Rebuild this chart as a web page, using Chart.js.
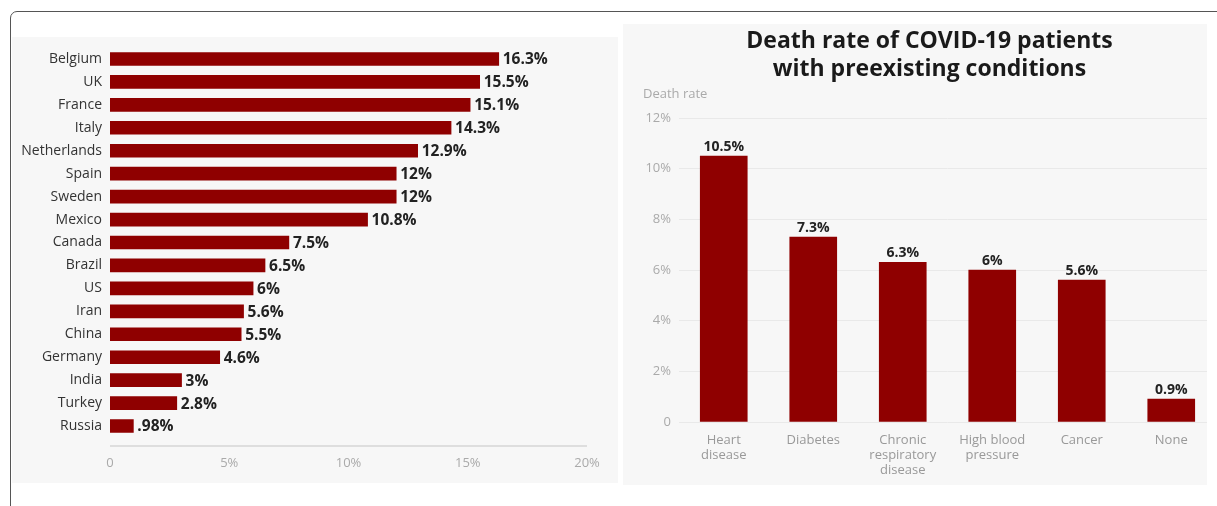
<!DOCTYPE html>
<html lang="en">
<head>
  <meta charset="UTF-8">
  <title>COVID-19 death rates</title>
  <script src="https://cdn.jsdelivr.net/npm/chart.js"></script>
  <style>
    body { margin: 0; width: 1217px; height: 506px; overflow: hidden; background: #fff; position: relative; }
    .frame { position: absolute; left: 10px; top: 11px; width: 1400px; height: 700px; border: 1.5px solid #555; border-radius: 7px; }
    .panel { position: absolute; background: #f7f7f7; }
    #leftPanel { left: 12px; top: 37px; width: 606px; height: 446px; }
    #rightPanel { left: 623px; top: 24px; width: 584px; height: 461px; }
    #leftChart { position: absolute; left: 12px; top: 37px; }
    #rightChart { position: absolute; left: 623px; top: 24px; }
    .cover { position: absolute; left: 1207px; top: 20px; width: 20px; height: 470px; background: #fff; }
  </style>
</head>
<body>
<div class="frame"></div>
<div class="panel" id="leftPanel"></div>
<div class="panel" id="rightPanel"></div>
<canvas id="leftChart" width="606" height="446"></canvas>
<canvas id="rightChart" width="594" height="461"></canvas>
<div class="cover"></div>

<script>
  // left chart: death rate by country
  const countries = ['Belgium', 'UK', 'France', 'Italy', 'Netherlands', 'Spain', 'Sweden', 'Mexico',
    'Canada', 'Brazil', 'US', 'Iran', 'China', 'Germany', 'India', 'Turkey', 'Russia'];
  const countryRates = [16.3, 15.5, 15.1, 14.3, 12.9, 12, 12, 10.8, 7.5, 6.5, 6, 5.6, 5.5, 4.6, 3, 2.8, 0.98];
  const countryLabels = ['16.3%', '15.5%', '15.1%', '14.3%', '12.9%', '12%', '12%', '10.8%', '7.5%',
    '6.5%', '6%', '5.6%', '5.5%', '4.6%', '3%', '2.8%', '.98%'];

  // right chart: death rate by preexisting condition
  const conditions = [['Heart', 'disease'], ['Diabetes'], ['Chronic', 'respiratory', 'disease'],
    ['High blood', 'pressure'], ['Cancer'], ['None']];
  const conditionRates = [10.5, 7.3, 6.3, 6, 5.6, 0.9];
  const conditionLabels = ['10.5%', '7.3%', '6.3%', '6%', '5.6%', '0.9%'];

  const barRed = '#8f0000';
  Chart.defaults.font.family = '"Open Sans", sans-serif';

  const pctTick = v => v === 0 ? '0' : v + '%';

  const leftValues = {
    id: 'leftValues',
    afterDatasetsDraw(chart) {
      const ctx = chart.ctx;
      ctx.save();
      ctx.font = 'bold 15.5px "Open Sans"';
      ctx.fillStyle = '#222';
      ctx.textBaseline = 'middle';
      chart.getDatasetMeta(0).data.forEach((bar, i) => {
        ctx.fillText(countryLabels[i], bar.x + 4, bar.y + 1);
      });
      ctx.restore();
    }
  };

  const baseLine = {
    id: 'baseLine',
    afterDraw(chart) {
      const ctx = chart.ctx;
      const x = chart.scales.x;
      const y = chart.chartArea.bottom + 8.5;
      ctx.save();
      ctx.strokeStyle = '#dedede';
      ctx.lineWidth = 2;
      ctx.beginPath();
      ctx.moveTo(x.getPixelForValue(0), y);
      ctx.lineTo(x.getPixelForValue(20), y);
      ctx.stroke();
      ctx.restore();
    }
  };

  new Chart(document.getElementById('leftChart'), {
    type: 'bar',
    data: {
      labels: countries,
      datasets: [{ data: countryRates, backgroundColor: barRed, barThickness: 13 }]
    },
    options: {
      indexAxis: 'y',
      responsive: false,
      animation: false,
      layout: { padding: { top: 10.5, bottom: 0, left: 0, right: 31 } },
      plugins: { legend: { display: false }, tooltip: { enabled: false } },
      scales: {
        x: {
          min: 0, max: 20,
          grid: { display: false, drawTicks: false }, border: { display: false },
          ticks: { stepSize: 5, callback: pctTick, color: '#aaa', font: { size: 13 }, padding: 17.7 },
          afterFit: s => { s.height = 45.5; s.paddingLeft = 0; s.paddingRight = 0; }
        },
        y: {
          grid: { display: false, drawTicks: false }, border: { display: false },
          ticks: { color: '#333', font: { size: 14, weight: 500 }, padding: 8 },
          afterFit: s => { s.width = 98; s.paddingTop = 0; s.paddingBottom = 0; }
        }
      }
    },
    plugins: [leftValues, baseLine]
  });

  const rightValues = {
    id: 'rightValues',
    afterDatasetsDraw(chart) {
      const ctx = chart.ctx;
      ctx.save();
      ctx.font = 'bold 14px "Open Sans"';
      ctx.fillStyle = '#222';
      ctx.textAlign = 'center';
      ctx.textBaseline = 'bottom';
      chart.getDatasetMeta(0).data.forEach((bar, i) => {
        ctx.fillText(conditionLabels[i], bar.x, bar.y - 2);
      });
      ctx.restore();
    }
  };

  new Chart(document.getElementById('rightChart'), {
    type: 'bar',
    data: {
      labels: conditions,
      datasets: [{ data: conditionRates, backgroundColor: barRed, barThickness: 47 }]
    },
    options: {
      responsive: false,
      animation: false,
      layout: { padding: { top: 0, bottom: 0, left: 20, right: 1 } },
      plugins: {
        legend: { display: false }, tooltip: { enabled: false },
        title: {
          display: true,
          text: ['Death rate of COVID-19 patients', 'with preexisting conditions'],
          color: '#1a1a1a',
          font: { size: 23, weight: 'bold', lineHeight: '28px' },
          padding: { top: 3.5, bottom: 3.5 }
        },
        subtitle: {
          display: true,
          text: 'Death rate',
          align: 'start',
          color: '#aaa',
          font: { size: 13, lineHeight: '14px' },
          padding: { top: 0, bottom: 17 }
        }
      },
      scales: {
        x: {
          grid: { display: false, drawTicks: false }, border: { display: false },
          ticks: { color: '#999', font: { size: 13, lineHeight: '15px' }, padding: 10.5, maxRotation: 0, autoSkip: false },
          afterFit: s => { s.height = 63; s.paddingLeft = 0; s.paddingRight = 0; }
        },
        y: {
          min: 0, max: 12,
          grid: { color: '#e9e9e9', drawTicks: false }, border: { display: false },
          ticks: { stepSize: 2, callback: pctTick, color: '#aaa', font: { size: 13 }, padding: 8 },
          afterFit: s => { s.width = 36; s.paddingTop = 0; s.paddingBottom = 0; }
        }
      }
    },
    plugins: [rightValues]
  });
</script>
</body>
</html>
